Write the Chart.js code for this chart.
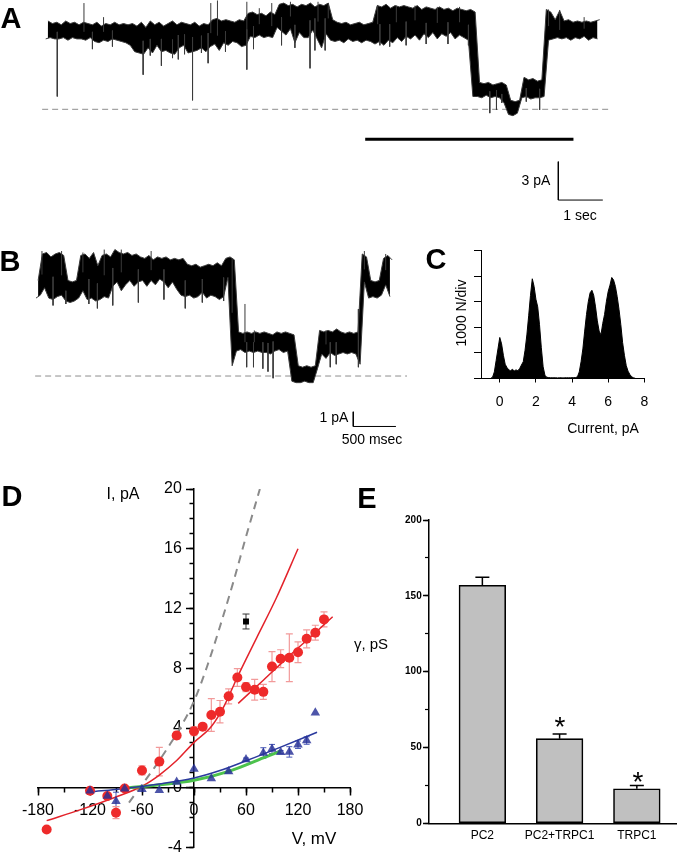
<!DOCTYPE html>
<html><head><meta charset="utf-8">
<script src="https://cdn.jsdelivr.net/npm/chart.js@4.4.1/dist/chart.umd.min.js"></script>
<style>
html,body{margin:0;padding:0;background:#fff;}
body{width:677px;height:853px;position:relative;overflow:hidden;font-family:'Liberation Sans',Arial,sans-serif;}
canvas{position:absolute;}
.t{position:absolute;white-space:nowrap;line-height:1;transform:translate(-50%,-50%);color:#000;}
.L{font-weight:bold;font-size:29px;}
</style></head><body>
<canvas id="cA" width="677" height="230" style="left:0px;top:0px"></canvas>
<canvas id="cB" width="410" height="215" style="left:0px;top:235px"></canvas>
<canvas id="cC" width="267" height="215" style="left:410px;top:235px"></canvas>
<canvas id="cD" width="370" height="403" style="left:0px;top:450px"></canvas>
<canvas id="cE" width="337" height="403" style="left:340px;top:450px"></canvas>

<div class="t L" style="left:11px;top:18px">A</div>
<div class="t L" style="left:10px;top:261px">B</div>
<div class="t L" style="left:436px;top:259px">C</div>
<div class="t L" style="left:12px;top:496px">D</div>
<div class="t L" style="left:367px;top:498px">E</div>

<div class="t" style="left:536px;top:180px;font-size:14px">3 pA</div>
<div class="t" style="left:580px;top:215px;font-size:14px">1 sec</div>
<div class="t" style="left:334px;top:417px;font-size:14px">1 pA</div>
<div class="t" style="left:372px;top:439px;font-size:14px">500 msec</div>
<div class="t" style="left:603px;top:428px;font-size:14px">Current, pA</div>
<div class="t" style="left:461px;top:313px;font-size:14px;transform:translate(-50%,-50%) rotate(-90deg)">1000 N/div</div>
<div class="t" style="left:123px;top:494px;font-size:16px">I, pA</div>
<div class="t" style="left:314px;top:838px;font-size:17px">V, mV</div>
<div class="t" style="left:371px;top:643px;font-size:15px">γ, pS</div>
<div class="t" style="left:560px;top:727px;font-size:28px">*</div>
<div class="t" style="left:638px;top:782px;font-size:28px">*</div>

<script>
// ---------------- DATA ----------------
// Panel A: single-channel trace, core envelope per 0.1 s bin (pA) + brief spikes
const A_DT = 0.1;
const A_HI = [6.9,6.7,6.8,6.6,6.9,6.7,6.8,6.6,6.8,6.7,
6.6,6.8,6.5,6.7,6.6,6.8,6.6,6.7,6.6,6.7,
6.5,6.8,6.4,6.9,6.6,6.8,6.5,6.7,6.9,6.6,
6.8,6.7,6.6,6.8,6.5,6.7,6.6,7.0,7.1,6.9,
7.0,6.9,6.8,7.0,6.9,7.5,7.6,7.4,7.5,7.3,
7.6,7.4,8.2,8.3,8.1,8.2,8.0,8.2,8.1,8.3,
8.0,8.2,8.1,8.3,7.0,6.8,6.7,6.8,6.6,6.7,
6.8,6.6,6.7,6.8,8.1,8.0,8.2,7.9,8.1,8.0,
8.1,8.0,7.9,8.1,7.8,8.0,7.9,7.8,8.0,7.8,
7.9,7.7,7.9,7.8,7.7,7.8,7.6,2.1,2.0,2.1,
1.9,2.0,2.1,1.9,0.7,0.6,0.7,2.5,2.3,2.4,
2.2,2.3,7.8,7.6,7.0,7.7,6.9,7.0,6.8,6.9,
6.8,6.9,6.8,6.9,7.0];
const A_LO = [5.5,5.6,5.5,5.5,5.6,5.4,5.6,5.5,5.5,5.4,
5.6,5.3,5.2,5.4,5.3,5.5,5.4,5.3,5.2,5.0,
4.5,4.4,4.3,4.8,4.4,5.0,4.5,4.6,4.4,4.3,
4.8,5.0,4.4,4.5,4.6,4.8,4.5,4.9,5.1,4.6,
5.2,5.0,5.3,5.2,4.9,5.0,5.7,5.6,5.8,5.6,
5.7,5.6,6.4,6.1,5.8,6.3,5.2,6.0,5.6,5.6,
6.2,5.5,4.8,5.9,5.4,5.3,5.4,5.2,5.5,5.3,
5.4,5.2,5.4,5.3,5.1,5.3,5.0,5.4,5.2,5.6,
5.3,5.7,5.5,5.8,5.4,5.9,5.6,6.0,5.5,5.9,
5.7,6.0,5.5,5.8,5.6,5.4,1.0,1.0,0.9,1.1,
0.9,1.0,0.9,0.5,-0.4,-0.5,-0.3,0.9,1.0,0.8,
0.9,0.9,1.0,5.4,5.5,5.6,5.5,5.6,5.4,5.6,
5.5,5.7,5.4,5.6,5.5];
const A_SPIKE_T = [0.26,1.05,1.5,2.19,2.35,2.6,2.85,2.98,3.12,3.3,3.5,3.65,4.04,4.52,4.67,5.3,5.6,5.94,6.05,6.28,
7.51,7.73,8.1,8.55,9.04,9.5,9.98,10.13,10.25,10.8,11.1,
0.86,1.3,3.71,3.86,4.52,4.8,5.08,5.5,6.12,6.35,7.46,7.88,8.3,8.8,9.3,11.3,11.55,12.1];
const A_SPIKE_I = [1.0,4.7,4.9,2.7,4.2,3.4,4.0,3.9,4.3,0.7,4.4,3.6,4.5,3.1,4.7,5.0,4.8,3.2,4.6,4.6,
5.0,4.9,5.0,5.1,5.1,5.0,-0.3,-0.05,0.5,0.6,-0.05,
8.3,7.2,8.3,8.5,8.4,7.9,8.3,8.4,8.4,8.3,8.15,8.1,8.1,8.0,8.0,7.8,7.76,7.2];
const A_BASE_T = [-0.08, 12.64];          // dashed zero-current line (s)
const A_MARK_T = [7.18, 11.86];           // region expanded in B (s)
const A_MARK_I = -2.34;
const A_SCALE_T = [11.52, 11.52, 12.52];  // 3 pA / 1 sec
const A_SCALE_I = [-4.09, -7.09, -7.09];

// Panel B: expanded trace, core envelope per 0.05 s bin (pA) + brief spikes
const B_DT = 0.05;
const B_HI = [6.5,8.3,8.4,8.1,8.3,8.4,8.2,6.5,6.4,6.5,
8.2,8.3,8.0,8.4,7.5,8.2,8.3,8.1,8.6,8.4,
8.3,8.4,8.2,8.3,8.1,8.0,8.2,7.9,8.1,8.0,
8.1,7.9,8.0,7.9,8.0,7.6,7.5,7.6,7.4,7.5,
7.6,7.5,7.7,7.5,8.0,8.1,7.9,3.0,2.9,3.0,
2.9,3.0,2.9,3.0,2.9,2.8,3.0,2.9,3.0,2.9,
2.8,0.7,0.6,0.7,0.6,0.7,3.1,3.0,3.1,3.0,
3.2,3.0,2.9,3.0,2.9,3.0,8.3,8.1,6.5,6.4,
6.5,8.0,8.2,7.9];
const B_LO = [5.3,5.5,6.0,5.3,5.2,5.4,5.5,5.1,5.0,5.1,
5.3,5.8,5.2,5.3,5.1,5.2,5.4,5.3,6.1,6.4,
5.8,6.2,6.5,6.1,6.4,6.5,6.1,6.5,6.2,6.6,
6.4,6.0,6.4,5.9,5.5,5.4,5.5,5.3,5.4,5.7,
5.3,5.5,5.4,5.2,5.4,6.7,0.7,1.7,1.8,1.6,
1.7,1.6,1.7,1.6,1.6,1.5,1.7,1.8,1.6,1.7,
-0.35,-0.45,-0.45,-0.35,-0.45,-0.45,0.5,1.5,1.2,1.6,
1.4,1.5,1.6,1.5,1.6,1.5,0.8,6.4,5.3,5.4,
5.3,5.5,6.2,5.4];
const B_SPIKE_T = [0.2,0.35,0.62,0.72,0.9,1.2,1.5,1.75,1.95,2.2,2.45,2.47,2.55,2.66,2.72,2.78,3.45,3.52,3.78,
0.07,0.3,0.55,0.8,1.0,1.35,2.3,2.56,3.4,3.85,4.1];
const B_SPIKE_I = [4.8,4.9,4.9,4.6,4.8,5.0,5.2,4.6,5.0,5.1,4.9,0.6,0.6,0.5,0.3,-0.15,0.6,0.8,0.6,
8.5,8.5,8.4,8.6,8.6,8.5,8.0,3.1,3.1,8.5,8.3];
const B_BASE_T = [-0.01, 4.35];
const B_SCALE_T = [3.72, 3.72, 4.22];     // 1 pA / 500 msec
const B_SCALE_I = [-2.43, -3.43, -3.43];

// Panel C: amplitude histogram (counts per 0.1 pA bin, starting at -0.5 pA)
const HIST_START = -0.5, HIST_STEP = 0.1;
const HIST_COUNTS = [0,40,250,700,1150,1600,1350,900,550,420,
330,300,350,290,330,300,380,520,650,1100,
1700,2450,3250,3900,3600,3100,2800,2100,1200,450,
120,40,30,20,20,20,20,15,20,20,
15,20,20,20,20,25,25,30,60,250,
650,1150,1850,2500,3000,3350,3450,3250,2800,2250,
1850,1700,2150,2500,3000,3400,3650,3950,3850,3600,
3200,2700,2100,1400,900,500,280,150,60,20,
0];
const HIST_XTICKS = [0, 2, 4, 6, 8];

// Panel D: I-V relations
const IV_RED_V = [-170,-120,-100,-90,-80,-60,-40,-20,0,10,20,30,40,50,60,70,80,90,100,110,120,130,140,150];
const IV_RED_I = [-2.8,-0.2,-0.55,-1.67,-0.05,1.16,1.75,3.5,3.78,4.09,4.87,5.09,6.12,7.38,6.74,6.56,6.42,8.11,8.64,8.7,9.07,9.97,10.38,11.27];
const IV_RED_SEM = [0,0,0,0.4,0,0.3,0.95,0.25,0.3,0.2,1.1,0.75,0.5,0.6,0.3,0.7,0.5,1.0,0.6,1.6,0.7,0.6,0.5,0.5];
const IV_BLUE_V = [-120,-100,-90,-80,-60,-40,-20,0,20,40,60,80,90,100,110,120,130,140];
const IV_BLUE_I = [-0.2,-0.56,-0.9,-0.07,-0.1,-0.17,0.38,1.25,0.62,1.09,1.89,2.33,2.6,2.38,2.4,2.88,3.16,5.02];
const IV_BLUE_SEM = [0,0,0.6,0,0,0,0,0,0,0.1,0.1,0.35,0.3,0.1,0.35,0.25,0.25,0];
const IV_BLACK_V = [60], IV_BLACK_I = [11.13], IV_BLACK_SEM = [0.5];
const FIT_DASH_V = [-75,-60,-45,-30,-15,0,15,30,45,60,76];
const FIT_DASH_I = [-1.0,0.2,1.4,2.7,4.1,5.8,8.1,10.8,13.7,16.8,20];
const FIT_RED1_V = [-170,-130,-90,-60,-40,-20,0,20,35,50,72,95,120];
const FIT_RED1_I = [-2.2,-1.45,-0.62,0.1,0.85,1.82,3.04,4.1,5.5,7.4,10.0,12.7,16.0];
const FIT_RED2_V = [51,80,110,140,160];
const FIT_RED2_I = [5.65,7.2,8.83,10.38,11.45];
const FIT_BLUE_V = [-120,-80,-40,0,30,60,100,142];
const FIT_BLUE_I = [-0.28,-0.05,0.25,0.65,1.15,1.8,2.72,3.72];
const FIT_GREEN_V = [-75,-40,0,40,80,100];
const FIT_GREEN_I = [0,0.2,0.5,1.1,2.0,2.45];
const IV_XTICKS = [-180,-120,-60,0,60,120,180];
const IV_YTICKS = [-4,0,4,8,12,16,20];

// Panel E: unitary conductance
const E_CATS = ['PC2', 'PC2+TRPC1', 'TRPC1'];
const E_MEAN = [157, 55.8, 22.8];
const E_SEM = [5.2, 3.1, 2.2];
const E_YTICKS = [0, 50, 100, 150, 200];

// ---------------- HELPERS ----------------
Chart.defaults.font.family = "'Liberation Sans', Arial, sans-serif";
Chart.defaults.color = '#000';
const pts = (xs, ys) => xs.map((x, i) => ({x: x, y: ys[i]}));
const zeroPad = s => { s.paddingTop = 0; s.paddingBottom = 0; s.paddingLeft = 0; s.paddingRight = 0; };
const fixedTicks = arr => (s => { s.ticks = arr.map(v => ({value: v})); });
const baseOpts = (padding, scales) => ({
  responsive: false, animation: false, events: [],
  layout: {padding: padding},
  plugins: {legend: {display: false}, tooltip: {enabled: false}},
  scales: scales
});

function drawErr(chart, layer) {
  const ctx = chart.ctx;
  chart.data.datasets.forEach((ds, di) => {
    if (!ds.errors || ds.errorLayer !== layer) return;
    const meta = chart.getDatasetMeta(di);
    const xs = chart.scales[meta.xAxisID], ys = chart.scales[meta.yAxisID];
    ctx.save();
    ctx.strokeStyle = ds.errorColor; ctx.lineWidth = ds.errorWidth;
    ds.data.forEach((p, i) => {
      const e = ds.errors[i]; if (!e) return;
      const x = xs.getPixelForValue(p.x);
      const yt = ys.getPixelForValue(p.y + e);
      const yb = ys.getPixelForValue(ds.errorUpperOnly ? p.y : p.y - e);
      const c = ds.errorCap / 2;
      ctx.beginPath();
      ctx.moveTo(x, yt); ctx.lineTo(x, yb);
      ctx.moveTo(x - c, yt); ctx.lineTo(x + c, yt);
      if (!ds.errorUpperOnly) { ctx.moveTo(x - c, yb); ctx.lineTo(x + c, yb); }
      ctx.stroke();
    });
    ctx.restore();
  });
}
const errPlugin = {
  id: 'errbars',
  beforeDatasetsDraw(chart) { drawErr(chart, 'below'); },
  afterDatasetsDraw(chart) { drawErr(chart, 'above'); }
};

// trace = filled envelope between hi and lo + thin vertical spikes from the band to each tip
function traceDatasets(hi, lo, dt, spikeT, spikeI) {
  const hiPts = hi.map((v, i) => ({x: i * dt + dt / 2, y: v}));
  const loPts = lo.map((v, i) => ({x: i * dt, y: v}));
  const spk = [];
  spikeT.forEach((t, k) => {
    const b = Math.min(hi.length - 1, Math.max(0, Math.round(t / dt)));
    const mid = (hi[b] + lo[b]) / 2;
    spk.push({x: t, y: mid}, {x: t, y: spikeI[k]}, {x: t, y: null});
  });
  return [
    {data: spk, borderColor: '#3a3a3a', borderWidth: 1, pointRadius: 0, spanGaps: false, order: 0},
    {data: hiPts, borderColor: '#3a3a3a', borderWidth: 1, pointRadius: 0, fill: false, order: 1},
    {data: loPts, borderColor: '#3a3a3a', borderWidth: 1, pointRadius: 0, fill: '-1', backgroundColor: '#000', order: 2}
  ];
}

// ---------------- PANEL A ----------------
new Chart(document.getElementById('cA'), {
  type: 'line',
  data: {datasets: traceDatasets(A_HI, A_LO, A_DT, A_SPIKE_T, A_SPIKE_I).concat([
    {data: pts(A_BASE_T, [0, 0]), borderColor: '#8e8e8e', borderWidth: 1, borderDash: [6, 4], pointRadius: 0, order: 5},
    {data: pts(A_MARK_T, [A_MARK_I, A_MARK_I]), borderColor: '#000', borderWidth: 3, pointRadius: 0, order: 3},
    {data: pts(A_SCALE_T, A_SCALE_I), borderColor: '#000', borderWidth: 1, pointRadius: 0, order: 3}
  ])},
  options: baseOpts(0, {
    x: {type: 'linear', display: false, min: -1.027, max: 14.187},
    y: {type: 'linear', display: false, min: -9.43, max: 8.539}
  })
});

// ---------------- PANEL B ----------------
new Chart(document.getElementById('cB'), {
  type: 'line',
  data: {datasets: traceDatasets(B_HI, B_LO, B_DT, B_SPIKE_T, B_SPIKE_I).concat([
    {data: pts(B_BASE_T, [0, 0]), borderColor: '#8e8e8e', borderWidth: 1, borderDash: [6, 4], pointRadius: 0, order: 5},
    {data: pts(B_SCALE_T, B_SCALE_I), borderColor: '#000', borderWidth: 1, pointRadius: 0, order: 3}
  ])},
  options: baseOpts(0, {
    x: {type: 'linear', display: false, min: -0.422, max: 4.385},
    y: {type: 'linear', display: false, min: -5.03, max: 9.59}
  })
});

// ---------------- PANEL C ----------------
new Chart(document.getElementById('cC'), {
  type: 'line',
  data: {datasets: [{
    data: HIST_COUNTS.map((c, i) => ({x: HIST_START + i * HIST_STEP, y: c})),
    backgroundColor: '#000', borderColor: '#000', borderWidth: 1, pointRadius: 0, fill: 'origin'
  }]},
  options: baseOpts({left: 71.7, right: 32.7, top: 15.7, bottom: 71.7}, {
    x: {type: 'linear', position: {y: 0}, min: -1, max: 8,
        afterBuildTicks: fixedTicks(HIST_XTICKS), afterFit: zeroPad,
        ticks: {font: {size: 14}, color: '#000', padding: 12, autoSkip: false, maxRotation: 0},
        grid: {drawOnChartArea: false, tickLength: 3.5, tickColor: '#000', tickWidth: 1},
        border: {color: '#000', width: 1}},
    y: {type: 'linear', position: {x: -1}, min: 0, max: 5000,
        ticks: {stepSize: 1000, display: false}, afterFit: zeroPad,
        grid: {drawOnChartArea: false, tickLength: 7, tickColor: '#000', tickWidth: 1},
        border: {color: '#000', width: 1}}
  })
});

// ---------------- PANEL D ----------------
const axisCommon = {drawOnChartArea: false, tickColor: '#000', tickWidth: 1.5};
new Chart(document.getElementById('cD'), {
  type: 'line',
  data: {datasets: [
    {data: pts(IV_BLACK_V, IV_BLACK_I), showLine: false, pointStyle: 'rect', pointRadius: 4.2,
     pointBackgroundColor: '#000', pointBorderWidth: 0, order: 1,
     errors: IV_BLACK_SEM, errorLayer: 'below', errorColor: '#333', errorWidth: 1, errorCap: 7},
    {data: pts(IV_BLUE_V, IV_BLUE_I), showLine: false, pointStyle: 'triangle', pointRadius: 5.5,
     pointBackgroundColor: 'rgba(38,48,150,0.82)', pointBorderWidth: 0, order: 2,
     errors: IV_BLUE_SEM, errorLayer: 'below', errorColor: '#4a5ab8', errorWidth: 1, errorCap: 6},
    {data: pts(IV_RED_V, IV_RED_I), showLine: false, pointStyle: 'circle', pointRadius: 5,
     pointBackgroundColor: '#ee2a2a', pointBorderWidth: 0, order: 3,
     errors: IV_RED_SEM, errorLayer: 'below', errorColor: '#f29a9a', errorWidth: 1.2, errorCap: 7},
    {data: pts(FIT_BLUE_V, FIT_BLUE_I), borderColor: '#2b3a9e', borderWidth: 1.6, pointRadius: 0,
     cubicInterpolationMode: 'monotone', order: 6},
    {data: pts(FIT_GREEN_V, FIT_GREEN_I), borderColor: '#4cc24c', borderWidth: 3, pointRadius: 0,
     cubicInterpolationMode: 'monotone', order: 7},
    {data: pts(FIT_RED1_V, FIT_RED1_I), borderColor: '#e3232b', borderWidth: 1.5, pointRadius: 0,
     cubicInterpolationMode: 'monotone', order: 8},
    {data: pts(FIT_RED2_V, FIT_RED2_I), borderColor: '#e3232b', borderWidth: 1.5, pointRadius: 0,
     cubicInterpolationMode: 'monotone', order: 8},
    {data: pts(FIT_DASH_V, FIT_DASH_I), borderColor: '#8a8a8a', borderWidth: 2, borderDash: [8, 6], pointRadius: 0,
     cubicInterpolationMode: 'monotone', order: 9}
  ]},
  options: baseOpts({left: 38, right: 20, top: 39, bottom: 4}, {
    x: {type: 'linear', position: {y: 0}, min: -180, max: 180,
        afterBuildTicks: fixedTicks(IV_XTICKS), afterFit: zeroPad,
        ticks: {font: {size: 16}, color: '#000', padding: 6, autoSkip: false, maxRotation: 0},
        grid: Object.assign({tickLength: 7}, axisCommon), border: {color: '#000', width: 1.5}},
    x2: {type: 'linear', axis: 'x', position: {y: 0}, min: -180, max: 180, afterFit: zeroPad,
        ticks: {stepSize: 30, display: false},
        grid: Object.assign({tickLength: 4.5}, axisCommon), border: {display: false}},
    y: {type: 'linear', position: {x: 0}, min: -4, max: 20,
        afterBuildTicks: fixedTicks(IV_YTICKS), afterFit: zeroPad,
        ticks: {display: false},
        grid: Object.assign({tickLength: 7}, axisCommon), border: {color: '#000', width: 1.5}},
    y2: {type: 'linear', axis: 'y', position: {x: 0}, min: -4, max: 20, afterFit: zeroPad,
        ticks: {stepSize: 1, display: false},
        grid: Object.assign({tickLength: 4.5}, axisCommon), border: {display: false}},
    // labels of the I axis, set just left of its tick marks
    yl: {type: 'linear', axis: 'y', position: {x: -14}, min: -4, max: 20,
        afterBuildTicks: fixedTicks(IV_YTICKS), afterFit: zeroPad,
        ticks: {font: {size: 16}, color: '#000', autoSkip: false},
        grid: {display: false}, border: {display: false}}
  }),
  plugins: [errPlugin]
});

// ---------------- PANEL E ----------------
const E_XMIN = -0.70, E_XMAX = 2.52;
new Chart(document.getElementById('cE'), {
  type: 'bar',
  data: {datasets: [{
    data: E_MEAN.map((v, i) => ({x: i, y: v})),
    backgroundColor: '#c0c0c0', borderColor: '#000', borderWidth: 1.6, borderSkipped: false,
    barThickness: 46.7,
    errors: E_SEM, errorLayer: 'above', errorUpperOnly: true, errorColor: '#000', errorWidth: 1.5, errorCap: 14
  }]},
  options: baseOpts({left: 88.3, right: 0, top: 70, bottom: 29.7}, {
    x: {type: 'linear', position: {y: 0}, min: E_XMIN, max: E_XMAX, offset: false,
        afterBuildTicks: fixedTicks(E_CATS.map((c, i) => i)), afterFit: zeroPad,
        ticks: {callback: v => E_CATS[v], font: {size: 12}, color: '#000', padding: 5, autoSkip: false, maxRotation: 0},
        grid: {drawOnChartArea: false, drawTicks: false, offset: false}, border: {color: '#000', width: 1.5}},
    y: {type: 'linear', position: {x: E_XMIN}, min: 0, max: 200,
        afterBuildTicks: fixedTicks(E_YTICKS), afterFit: zeroPad,
        ticks: {display: false},
        grid: {drawOnChartArea: false, tickLength: 5, tickColor: '#000', tickWidth: 1.5},
        border: {color: '#000', width: 1.5}},
    y2: {type: 'linear', axis: 'y', position: {x: E_XMIN}, min: 0, max: 200, afterFit: zeroPad,
        ticks: {stepSize: 25, display: false},
        grid: {drawOnChartArea: false, tickLength: 3, tickColor: '#000', tickWidth: 1.2},
        border: {display: false}},
    yl: {type: 'linear', axis: 'y', position: {x: E_XMIN - 0.085}, min: 0, max: 200,
        afterBuildTicks: fixedTicks(E_YTICKS), afterFit: zeroPad,
        ticks: {font: {size: 10, weight: 'bold'}, color: '#000', autoSkip: false},
        grid: {display: false}, border: {display: false}}
  }),
  plugins: [errPlugin]
});
</script>
</body></html>
